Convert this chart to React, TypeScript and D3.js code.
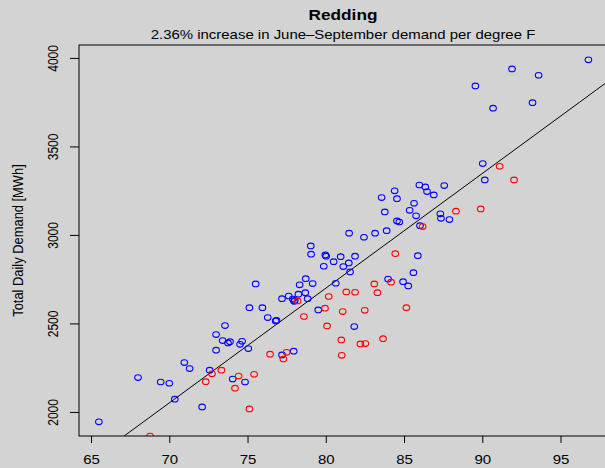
import { useRef, useEffect } from 'react'
import * as d3 from 'd3'

// blue points (weekdays) — temperature [F] and demand [MWh]
const weekdayTemp = [
  65.5, 68.0, 69.45, 70.0, 70.35, 70.96, 71.3, 72.1, 72.58, 72.99, 72.99, 73.56, 73.41, 73.75, 73.88,
  74.52, 74.65, 75.05, 74.05, 74.84, 75.12, 75.95, 75.52, 76.29, 76.8, 76.85, 77.2, 77.63, 77.89, 77.97,
  78.02, 78.25, 78.33, 78.69, 78.72, 78.84, 79.16, 79.52, 77.2, 77.95, 79.06, 79.04, 79.97, 80.02, 79.87,
  80.5, 80.95, 81.12, 81.47, 81.55, 81.87, 80.64, 81.82, 81.49, 82.44, 83.15, 83.89, 83.77, 83.57, 84.4,
  84.55, 84.55, 84.7, 83.98, 84.94, 85.27, 85.6, 85.88, 85.36, 85.64, 85.77, 86.02, 85.98, 86.36, 86.47,
  86.9, 87.32, 87.36, 87.9, 87.57, 89.56, 90.03, 90.16, 90.69, 91.9, 93.21, 93.6, 96.78,
]
const weekdayDemand = [
  1944, 2194, 2169, 2162, 2072, 2279, 2245, 2028, 2236, 2437, 2349, 2488, 2403, 2390, 2397,
  2382, 2399, 2358, 2186, 2169, 2589, 2589, 2723, 2533, 2514, 2518, 2640, 2655, 2638, 2625,
  2630, 2665, 2718, 2674, 2753, 2640, 2725, 2576, 2322, 2343, 2891, 2938, 2887, 2880, 2823,
  2849, 2877, 2821, 2842, 2791, 2880, 2727, 2482, 3010, 2987, 3010, 3024, 3130, 3211, 3249,
  3205, 3079, 3073, 2751, 2736, 2712, 2787, 2883, 3139, 3179, 3108, 3052, 3282, 3271, 3245,
  3226, 3119, 3094, 3087, 3279, 3842, 3403, 3311, 3716, 3938, 3747, 3902, 3989,
]

// red points (weekends)
const weekendTemp = [
  68.77, 72.33, 72.73, 73.33, 74.2, 74.43, 75.42, 75.12, 76.44, 77.29, 77.5, 78.2, 78.6, 79.95, 80.08,
  80.19, 80.99, 81.02, 81.08, 81.31, 81.87, 82.21, 82.53, 82.49, 83.1, 83.3, 83.66, 84.17, 84.44, 85.15,
  86.19, 88.32, 89.9, 91.11, 92.03,
]
const weekendDemand = [
  1864, 2171, 2215, 2236, 2134, 2203, 2213, 2017, 2326, 2299, 2337, 2627, 2539, 2586, 2486,
  2652, 2407, 2320, 2567, 2678, 2676, 2384, 2386, 2574, 2723, 2674, 2414, 2733, 2894, 2589,
  3047, 3134, 3147, 3388, 3311,
]

const xTicks = [65, 70, 75, 80, 85, 90, 95]
const yTicks = [2000, 2500, 3000, 3500, 4000]

// fitted line: demand = intercept + slope * temp
const fitIntercept = -2485
const fitSlope = 64.8

const W = 605
const H = 468
const FONT = '"Liberation Sans", Arial, Helvetica, sans-serif'
const SX = 1.2 // the original render is a little wider than tall

const App = () => {
  const chartRef = useRef<SVGSVGElement>(null)

  useEffect(() => {
    drawChart()
  }, [])

  const drawChart = () => {
    const svg = d3.select(chartRef.current)
    svg.selectAll('*').remove()
    const plot = { left: 79, top: 45, right: 607, bottom: 436 }

    const x = d3.scaleLinear().domain([64.23, 97.97]).range([plot.left, plot.right])
    const y = d3.scaleLinear().domain([1864, 4073]).range([plot.bottom, plot.top])

    svg.append('rect').attr('width', W).attr('height', H).attr('fill', '#d3d3d3')

    svg.append('defs').append('clipPath').attr('id', 'plotclip')
      .append('rect')
      .attr('x', plot.left).attr('y', plot.top)
      .attr('width', plot.right - plot.left).attr('height', plot.bottom - plot.top)

    // regression line
    const [x0, x1] = x.domain()
    svg.append('line')
      .attr('clip-path', 'url(#plotclip)')
      .attr('x1', x(x0)).attr('y1', y(fitIntercept + fitSlope * x0))
      .attr('x2', x(x1)).attr('y2', y(fitIntercept + fitSlope * x1))
      .attr('stroke', '#000').attr('stroke-width', 1)

    const pts = svg.append('g').attr('clip-path', 'url(#plotclip)').attr('fill', 'none').attr('stroke-width', 1.1)
    pts.selectAll('ellipse.wd')
      .data(weekdayTemp.map((t, i) => [t, weekdayDemand[i]]))
      .enter().append('ellipse')
      .attr('class', 'wd')
      .attr('cx', (d) => x(d[0])).attr('cy', (d) => y(d[1]))
      .attr('rx', 3.3).attr('ry', 2.8).attr('stroke', '#0000ff')
    pts.selectAll('ellipse.we')
      .data(weekendTemp.map((t, i) => [t, weekendDemand[i]]))
      .enter().append('ellipse')
      .attr('class', 'we')
      .attr('cx', (d) => x(d[0])).attr('cy', (d) => y(d[1]))
      .attr('rx', 3.3).attr('ry', 2.8).attr('stroke', '#ff0000')

    // box
    svg.append('rect')
      .attr('x', plot.left).attr('y', plot.top)
      .attr('width', plot.right - plot.left).attr('height', plot.bottom - plot.top)
      .attr('fill', 'none').attr('stroke', '#000').attr('stroke-width', 1)

    // x axis
    const gx = svg.append('g')
      .attr('transform', `translate(0,${plot.bottom})`)
      .call(d3.axisBottom(x).tickValues(xTicks).tickSize(7).tickFormat(d3.format('d')))
    gx.select('.domain').remove()
    gx.selectAll('text')
      .attr('font-size', 12.5).attr('font-family', FONT).attr('fill', '#000')
      .attr('y', 28).attr('dy', null)
      .attr('transform', `scale(${SX},1)`)

    // y axis
    const gy = svg.append('g')
      .attr('transform', `translate(${plot.left},0)`)
      .call(d3.axisLeft(y).tickValues(yTicks).tickSize(9).tickFormat(d3.format('d')))
    gy.select('.domain').remove()
    gy.selectAll('text')
      .attr('font-size', 12).attr('font-family', FONT).attr('fill', '#000')
      .attr('text-anchor', 'middle')
      .attr('x', null).attr('dy', null)
      .attr('transform', `translate(-20.7,0) scale(${SX},1) rotate(-90)`)

    svg.append('text')
      .attr('transform', `translate(343,20) scale(1.23,1)`)
      .attr('text-anchor', 'middle')
      .attr('font-family', FONT).attr('font-size', 14).attr('font-weight', 'bold')
      .text('Redding')
    svg.append('text')
      .attr('transform', `translate(343,39) scale(1.15,1)`)
      .attr('text-anchor', 'middle')
      .attr('font-family', FONT).attr('font-size', 13)
      .text('2.36% increase in June\u2013September demand per degree F')
    svg.append('text')
      .attr('transform', `translate(22.5,${(plot.top + plot.bottom) / 2}) scale(${SX},1) rotate(-90)`)
      .attr('text-anchor', 'middle')
      .attr('font-family', FONT).attr('font-size', 12.9)
      .text('Total Daily Demand [MWh]')
  }

  return (
    <div style={{ position: 'absolute', left: 0, top: 0 }}>
      <svg ref={chartRef} width={W} height={H} style={{ display: 'block' }}></svg>
    </div>
  )
}

export default App
